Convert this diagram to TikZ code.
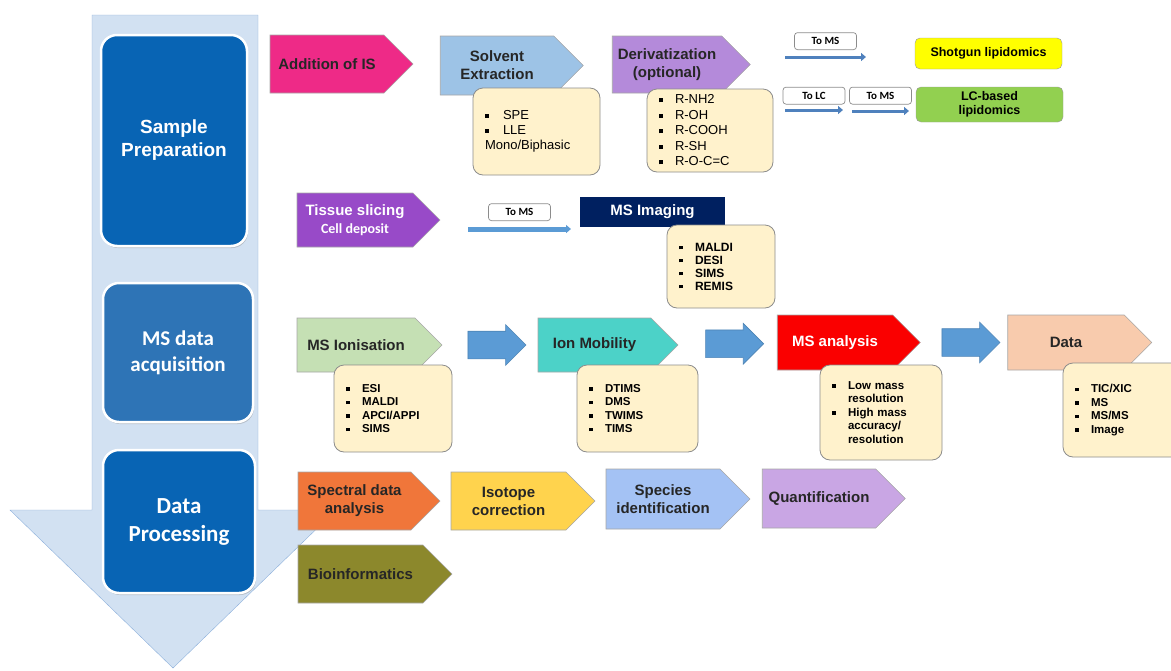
\documentclass[tikz,border=0pt]{standalone}
\usepackage{fontspec}
\setmainfont{Liberation Sans}
\newfontfamily\calfont{Carlito}
\usepackage{tikz}
\usetikzlibrary{arrows.meta,shapes.symbols,shapes.arrows,shadows}
\definecolor{bgblue}{RGB}{210,225,242}
\definecolor{bgedge}{RGB}{140,175,218}
\definecolor{stageblue}{RGB}{8,100,180}
\definecolor{acqblue}{RGB}{46,116,182}
\definecolor{cream}{RGB}{255,242,204}
\definecolor{lineblue}{RGB}{79,129,189}
\definecolor{arrowblue}{RGB}{91,155,213}
\definecolor{cpink}{RGB}{238,42,135}
\definecolor{csolvent}{RGB}{157,195,230}
\definecolor{cderiv}{RGB}{180,138,218}
\definecolor{ctissue}{RGB}{152,74,200}
\definecolor{cnavy}{RGB}{0,32,96}
\definecolor{cionis}{RGB}{197,224,180}
\definecolor{cmob}{RGB}{76,210,200}
\definecolor{cred}{RGB}{250,0,0}
\definecolor{cpeach}{RGB}{248,203,173}
\definecolor{corange}{RGB}{240,118,58}
\definecolor{colive}{RGB}{140,136,44}
\definecolor{cisotope}{RGB}{255,211,77}
\definecolor{cspecies}{RGB}{164,194,244}
\definecolor{cquant}{RGB}{201,166,228}
\definecolor{cyellow}{RGB}{255,255,0}
\definecolor{cgreen}{RGB}{146,208,80}
\newcommand{\lbul}{\makebox[16pt][l]{\rule[0.25ex]{0.32em}{0.32em}}}
\newcommand{\lgap}{\makebox[16pt]{}}
\tikzset{
  stagebox/.style={rounded corners=16pt, draw=white, line width=2.5pt, text=white,
    align=center, font=\calfont\bfseries\fontsize{21}{26}\selectfont,
    drop shadow={opacity=0.35, shadow xshift=1pt, shadow yshift=-2pt}},
  chevron/.style={signal, signal to=east, signal pointer angle=90, fill=#1,
    draw=black!35, line width=0.6pt, inner sep=0pt, align=center, text=black!85,
    font=\bfseries\fontsize{15}{18}\selectfont},
  listbox/.style={rounded corners=10pt, draw=black!45, line width=0.8pt, fill=cream,
    align=left, inner xsep=12pt, inner ysep=3pt,
    font=\bfseries\fontsize{11.5}{13.5}\selectfont},
  tagbox/.style={rounded corners=3pt, draw=black!45, line width=0.7pt, fill=white, inner sep=0pt,
    minimum width=62pt, minimum height=17pt, font=\calfont\bfseries\fontsize{11}{13}\selectfont},
  endbox/.style={rounded corners=5pt, draw=black!40, fill=#1, inner sep=0pt,
    minimum width=147pt, align=center, font=\bfseries\fontsize{12.5}{14.5}\selectfont},
  toline/.style={draw=lineblue, line width=3pt, -{Triangle[length=5pt,width=8pt]}},
  blockarrow/.style={single arrow, fill=arrowblue, draw=arrowblue!85!black, line width=0.6pt,
    inner xsep=0pt, inner ysep=13.5pt, minimum height=58pt, minimum width=40pt,
    single arrow head extend=6.5pt}
}
\begin{document}
\begin{tikzpicture}[x=1pt,y=-1pt]
\useasboundingbox (0,0) rectangle (1171,670);
\fill[bgblue, draw=bgedge] (92,15) -- (258,15) -- (258,510) -- (336,510) -- (173,668)
  -- (10,510) -- (92,510) -- cycle;

\node[stagebox, fill=stageblue, minimum width=146pt, minimum height=211pt,
  font=\bfseries\fontsize{19}{23}\selectfont] (prep) at (174,140.5) {Sample\\Preparation};
\node[stagebox, fill=acqblue, minimum width=150pt, minimum height=139pt] (acq) at (178,352.5) {MS data\\acquisition};
\node[stagebox, fill=stageblue, minimum width=152pt, minimum height=143pt,
  font=\calfont\bfseries\fontsize{23}{28}\selectfont] (proc) at (179,521.5) {Data\\Processing};

% sample preparation
\node[chevron=cpink, minimum width=143pt, minimum height=58pt] (addis) at (327,64) {Addition of IS};
\node[chevron=csolvent, minimum width=143pt, minimum height=59pt] (solv) at (497,65.5) {Solvent\\Extraction};
\node[chevron=cderiv, minimum width=138pt, minimum height=57pt] (deriv) at (667,64.5) {Derivatization\\(optional)};
\node[listbox, text width=103pt, minimum height=87pt, font=\fontsize{13}{15}\selectfont] (spel) at (536.5,131.5)
  {\makebox[18pt][l]{\rule[0.25ex]{0.32em}{0.32em}}SPE\\\makebox[18pt][l]{\rule[0.25ex]{0.32em}{0.32em}}LLE\\Mono/Biphasic};
\node[listbox, text width=102pt, minimum height=83pt, font=\fontsize{13}{15.5}\selectfont] (derl) at (710,130.5)
  {\lbul R-NH2\\\lbul R-OH\\\lbul R-COOH\\\lbul R-SH\\\lbul R-O-C=C};
\node[endbox=cyellow, minimum height=31pt] (shot) at (988.5,53.5) {Shotgun lipidomics};
\node[endbox=cgreen, minimum height=35pt] (lcb) at (989.5,104.5) {LC-based\\lipidomics};
\coordinate (ms1a) at (785,57);
\coordinate (ms1b) at (866,57);
\coordinate (lc1a) at (785,110);
\coordinate (lc1b) at (843,110);
\coordinate (ms2a) at (852,111);
\coordinate (ms2b) at (909,111);
\draw[toline] (ms1a) -- (ms1b) node[midway, above=7pt, tagbox] (tag1) {To MS};
\draw[toline] (lc1a) -- (lc1b) node[midway, above=5.5pt, tagbox] (tag2) {To LC};
\draw[toline] (ms2a) -- (ms2b) node[midway, above=6.5pt, tagbox] (tag3) {To MS};

% imaging
\node[chevron=ctissue, minimum width=143pt, minimum height=54pt, text=white] (tissue) at (355,220)
  {Tissue slicing\\{\calfont\fontsize{14}{16}\selectfont Cell deposit}};
\node[fill=cnavy, text=white, minimum width=145pt, minimum height=30pt, inner sep=0pt,
  font=\bfseries\fontsize{15}{18}\selectfont] (msimg) at (652.5,212) {MS Imaging};
\node[listbox, text width=84pt, minimum height=83pt, font=\bfseries\fontsize{12}{13}\selectfont] (imgl) at (721,266.5)
  {\lbul MALDI\\\lbul DESI\\\lbul SIMS\\\lbul REMIS};
\coordinate (img1a) at (468,229);
\coordinate (img1b) at (571,229);
\draw[toline, draw=arrowblue, line width=5pt] (img1a) -- (img1b)
  node[midway, above=8pt, tagbox] (tag4) {To MS};

% acquisition
\node[chevron=cionis, minimum width=145pt, minimum height=54pt] (ionis) at (356,345) {MS Ionisation};
\node[chevron=cmob, minimum width=140pt, minimum height=54pt] (mob) at (594.5,345) {Ion Mobility};
\node[chevron=cred, minimum width=143pt, minimum height=55pt, text=white] (msana) at (835,342.5) {MS analysis};
\node[chevron=cpeach, minimum width=144pt, minimum height=55pt] (data) at (1066,342.5) {Data};
\path (ionis.east) -- (mob.west) node[midway, blockarrow] (arr1) {};
\path (mob.east) -- (msana.west) node[midway, blockarrow] (arr2) {};
\path (msana.east) -- (data.west) node[midway, blockarrow] (arr3) {};
\node[listbox, text width=94pt, minimum height=87pt] (ionl) at (393,408.5)
  {\lbul ESI\\\lbul MALDI\\\lbul APCI/APPI\\\lbul SIMS};
\node[listbox, text width=97pt, minimum height=87pt] (mobl) at (637.5,408.5)
  {\lbul DTIMS\\\lbul DMS\\\lbul TWIMS\\\lbul TIMS};
\node[listbox, text width=98pt, minimum height=95pt] (anal) at (881,412.5)
  {\lbul Low mass\\\lgap resolution\\\lbul High mass\\\lgap accuracy/\\\lgap resolution};
\node[listbox, text width=99pt, minimum height=94pt] (datl) at (1124.5,410)
  {\lbul TIC/XIC\\\lbul MS\\\lbul MS/MS\\\lbul Image};

% data processing
\node[chevron=corange, minimum width=142pt, minimum height=58pt] (spec) at (354.5,501) {Spectral data\\analysis};
\node[chevron=cisotope, minimum width=144pt, minimum height=58pt] (iso) at (508.5,501) {Isotope\\correction};
\node[chevron=cspecies, minimum width=144pt, minimum height=60pt] (spid) at (663,499) {Species\\identification};
\node[chevron=cquant, minimum width=143pt, minimum height=59pt] (quant) at (819,498.5) {Quantification};
\node[chevron=colive, minimum width=154pt, minimum height=58pt] (bioinf) at (360.5,574) {Bioinformatics};
\end{tikzpicture}
\end{document}
